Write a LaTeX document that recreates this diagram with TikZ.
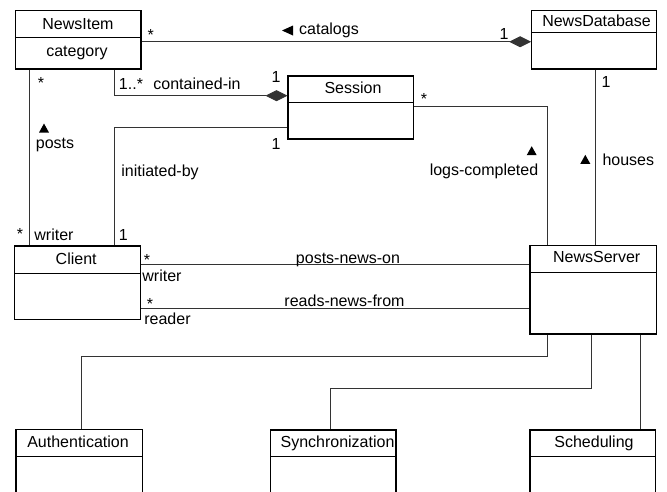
\documentclass[tikz,border=0pt]{standalone}
\usepackage{fontspec}
\setmainfont{Liberation Sans}
\usetikzlibrary{arrows.meta,calc}

\tikzset{
  classframe/.style={draw=black, line width=1.1pt, rectangle, inner sep=0pt},
  divider/.style={draw=black, line width=1pt},
  conn/.style={draw=black!80, line width=0.9pt},
  compo/.style={-{Diamond[length=22pt,width=11pt]}},
  lbl/.style={inner sep=0pt, anchor=base, font=\fontsize{16}{19}\selectfont},
  title/.style={lbl},
  dirmark/.style={fill=black},
}

% class box: name, x1, y1, x2, y2, y of the compartment divider
\newcommand\umlbox[6]{%
  \node[classframe, minimum width={#4pt-#2pt}, minimum height={#5pt-#3pt}]
    (#1) at ({(#2+#4)/2},{(#3+#5)/2}) {};
  \draw[divider] (#2,#6) -- (#4,#6);
}

\begin{document}
\begin{tikzpicture}[x=1pt, y=-1pt]
  \clip (0,0) rectangle (667,491);
  \fill[white] (0,0) rectangle (667,491);

  % classes
  \umlbox{NewsItem}{15.7}{10.7}{141}{69}{37.3}
  \umlbox{NewsDatabase}{531.7}{10.7}{656.7}{69}{32.7}
  \umlbox{Session}{288}{76}{413.3}{139}{102.7}
  \umlbox{Client}{14.7}{246}{140.3}{319.7}{273}
  \umlbox{NewsServer}{530}{245.7}{656.7}{334}{272.7}
  \umlbox{Authentication}{16}{429.3}{142.7}{530}{456.3}
  \umlbox{Synchronization}{270.7}{430}{396}{530}{456.3}
  \umlbox{Scheduling}{530}{430}{655.7}{530}{456.3}

  % class names and attributes
  \node[title] (tNewsItem) at (78,29) {NewsItem};
  \node[title] (tCategory) at (77,56.7) {category};
  \node[title] (tNewsDatabase) at (596.5,26.7) {NewsDatabase};
  \node[title] (tSession) at (353,93.3) {Session};
  \node[title] (tClient) at (76.2,264.3) {Client};
  \node[title] (tNewsServer) at (596.7,262) {NewsServer};
  \node[title] (tAuthentication) at (78,447) {Authentication};
  \node[title] (tSynchronization) at (337.5,447) {Synchronization};
  \node[title] (tScheduling) at (594,447) {Scheduling};

  % bend and alignment points of the associations
  \coordinate (catY) at (0,41.7);
  \coordinate (ci) at (114.3,95.7);
  \coordinate (ib) at (114.3,127.7);
  \coordinate (pc) at (29.3,0);
  \coordinate (lc) at (547.3,106.7);
  \coordinate (hc) at (595.7,0);
  \coordinate (pn) at (0,264.7);
  \coordinate (rn) at (0,308.7);
  \coordinate (au1) at (547.3,356);
  \coordinate (au2) at (81.3,356);
  \coordinate (sy1) at (591,388);
  \coordinate (sy2) at (330.3,388);
  \coordinate (sc) at (640,0);

  % associations
  \draw[conn, compo] (NewsItem.east |- catY) -- (NewsDatabase.west |- catY);
  \draw[conn, compo] (NewsItem.south -| ci) -- (ci) -- (Session.west |- ci);
  \draw[conn] (Session.west |- ib) -- (ib) -- (Client.north -| ib);
  \draw[conn] (NewsItem.south -| pc) -- (Client.north -| pc);
  \draw[conn] (Session.east |- lc) -- (lc) -- (NewsServer.north -| lc);
  \draw[conn] (NewsDatabase.south -| hc) -- (NewsServer.north -| hc);
  \draw[conn] (Client.east |- pn) -- (NewsServer.west |- pn);
  \draw[conn] (Client.east |- rn) -- (NewsServer.west |- rn);
  \draw[conn] (NewsServer.south -| au1) -- (au1) -- (au2) -- (Authentication.north -| au2);
  \draw[conn] (NewsServer.south -| sy1) -- (sy1) -- (sy2) -- (Synchronization.north -| sy2);
  \draw[conn] (NewsServer.south -| sc) -- (Scheduling.north -| sc);

  % reading-direction marks
  \coordinate (dCat) at (287.5,30.5);
  \coordinate (dPosts) at (44,128);
  \coordinate (dLogs) at (531.7,150.7);
  \coordinate (dHouses) at (585.3,159.3);
  \fill[dirmark] ($(dCat)+(-5.5,0)$) -- ($(dCat)+(5.5,-5)$) -- ($(dCat)+(5.5,5)$) -- cycle;
  \foreach \c in {dPosts,dLogs,dHouses}
    \fill[dirmark] ($(\c)+(-5,4.5)$) -- ($(\c)+(5,4.5)$) -- ($(\c)+(0,-4.5)$) -- cycle;

  % association names
  \node[lbl] (lCatalogs) at (329,34.5) {catalogs};
  \node[lbl] (lContained) at (197,89) {contained-in};
  \node[lbl] (lPosts) at (55,148) {posts};
  \node[lbl] (lInitiated) at (160,176.5) {initiated-by};
  \node[lbl] (lLogs) at (484,175) {logs-completed};
  \node[lbl] (lHouses) at (628.3,165.3) {houses};
  \node[lbl] (lPostsOn) at (348,263.3) {posts-news-on};
  \node[lbl] (lReads) at (344.5,306.3) {reads-news-from};

  % multiplicities and roles
  \node[lbl] (m1) at (150.7,40) {*};
  \node[lbl] (m2) at (504,39.3) {1};
  \node[lbl] (m3) at (41,88) {*};
  \node[lbl] (m4) at (131,89) {1..*};
  \node[lbl] (m5) at (276,82) {1};
  \node[lbl] (m6) at (276,149) {1};
  \node[lbl] (m7) at (20,239) {*};
  \node[lbl] (r1) at (54,240) {writer};
  \node[lbl] (m8) at (123.3,240) {1};
  \node[lbl] (m9) at (424,104) {*};
  \node[lbl] (m10) at (606,87.3) {1};
  \node[lbl] (m11) at (147,265.8) {*};
  \node[lbl] (r2) at (162,281.2) {writer};
  \node[lbl] (m12) at (150,309) {*};
  \node[lbl] (r3) at (167.5,324.8) {reader};
\end{tikzpicture}
\end{document}
